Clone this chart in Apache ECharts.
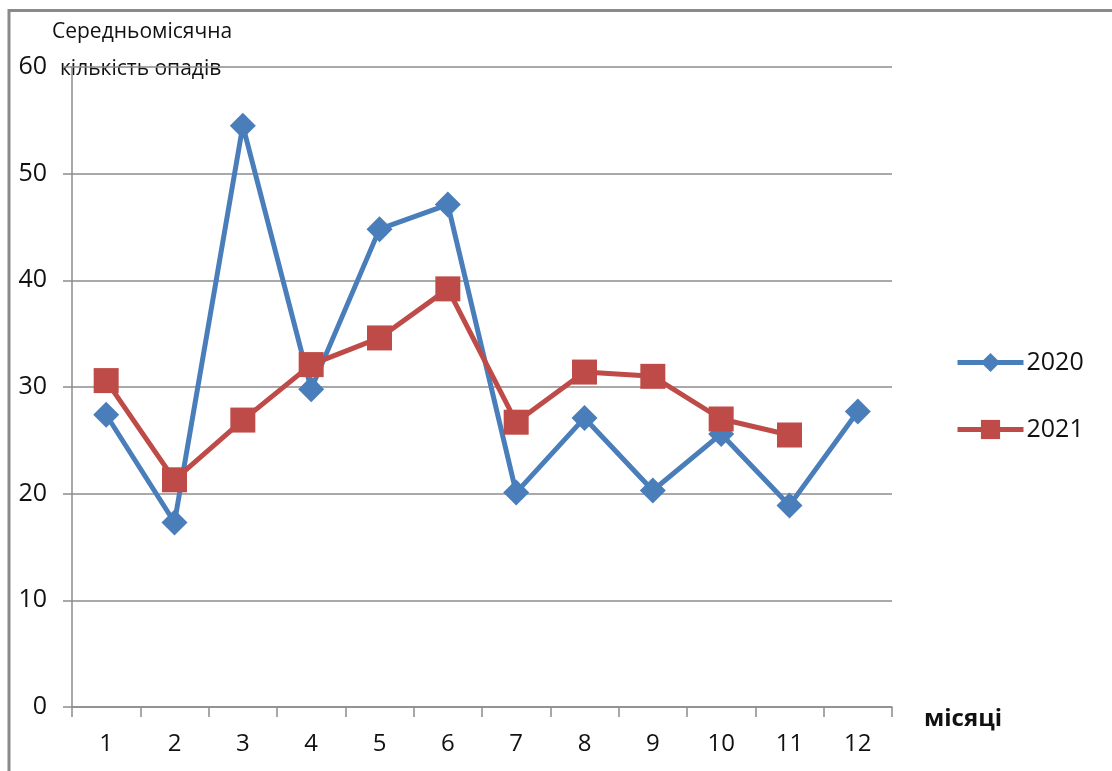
<!DOCTYPE html>
<html>
<head>
<meta charset="utf-8">
<script src="https://cdn.jsdelivr.net/npm/echarts@6/dist/echarts.min.js"></script>
<style>
  html, body { margin: 0; padding: 0; background: #fff; }
  #chart { width: 1112px; height: 771px; }
</style>
</head>
<body>
<div id="chart"></div>
<script>
// Monthly precipitation, two years
const months = ['1', '2', '3', '4', '5', '6', '7', '8', '9', '10', '11', '12'];
const values2020 = [27.4, 17.3, 54.5, 29.8, 44.8, 47.1, 20.1, 27.1, 20.3, 25.6, 18.9, 27.7];
const values2021 = [30.6, 21.3, 26.9, 32.1, 34.6, 39.2, 26.7, 31.4, 31.0, 27.0, 25.5, null];
const seriesNames = ['2020', '2021'];
const yTitleLines = ['Середньомісячна', 'кількість опадів'];
const xTitle = 'місяці';

const FONT = '"Open Sans", "Liberation Sans", sans-serif';
const axisGray = '#8c8c8c';

const chart = echarts.init(document.getElementById('chart'), null, { renderer: 'canvas' });

chart.setOption({
  animation: false,
  backgroundColor: '#fff',
  grid: { left: 72, right: 220, top: 67, bottom: 64, containLabel: false },
  legend: {
    orient: 'vertical',
    left: 950,
    top: 345,
    itemGap: 42,
    itemWidth: 66,
    itemHeight: 24,
    lineStyle: { width: 5 },
    textStyle: { fontFamily: FONT, fontSize: 25, color: '#111', padding: [0, 0, 0, -2] },
    data: seriesNames
  },
  xAxis: {
    type: 'category',
    data: months,
    boundaryGap: true,
    axisLine: { lineStyle: { color: axisGray, width: 1.5 } },
    axisTick: { show: true, length: 10, alignWithLabel: false, lineStyle: { color: axisGray, width: 1.5 } },
    axisLabel: { fontFamily: FONT, fontSize: 24, color: '#111', margin: 25 },
    name: xTitle,
    nameLocation: 'end',
    nameGap: 32,
    nameTextStyle: { fontFamily: FONT, fontSize: 24, fontWeight: 'bold', color: '#111', verticalAlign: 'top', padding: [0, 0, 0, 0] }
  },
  yAxis: {
    type: 'value',
    min: 0,
    max: 60,
    interval: 10,
    axisLine: { show: true, lineStyle: { color: axisGray, width: 1.5 } },
    axisTick: { show: true, length: 9, lineStyle: { color: axisGray, width: 1.5 } },
    splitLine: { show: true, lineStyle: { color: axisGray, width: 1.5 } },
    axisLabel: { fontFamily: FONT, fontSize: 25, color: '#111', margin: 25 }
  },
  graphic: [
    // outer frame: top and left edges
    { type: 'line', shape: { x1: 8, y1: 10.5, x2: 1112, y2: 10.5 }, style: { stroke: '#8a8a8a', lineWidth: 3 }, silent: true },
    { type: 'line', shape: { x1: 9, y1: 9, x2: 9, y2: 771 }, style: { stroke: '#8a8a8a', lineWidth: 3 }, silent: true },
    // value axis title, two lines with the second one indented
    {
      type: 'text', left: 52, top: 22, silent: true,
      style: { text: yTitleLines[0], fontFamily: FONT, fontSize: 21, fill: '#111' }
    },
    {
      type: 'text', left: 60, top: 59, silent: true,
      style: { text: yTitleLines[1], fontFamily: FONT, fontSize: 21, fill: '#111' }
    }
  ],
  series: [
    {
      name: seriesNames[0],
      type: 'line',
      data: values2020,
      symbol: 'diamond',
      symbolSize: 26,
      itemStyle: { color: '#4a7ebb' },
      lineStyle: { color: '#4a7ebb', width: 5 },
      z: 2
    },
    {
      name: seriesNames[1],
      type: 'line',
      data: values2021,
      symbol: 'rect',
      symbolSize: 25,
      connectNulls: false,
      itemStyle: { color: '#be4b48' },
      lineStyle: { color: '#be4b48', width: 5 },
      z: 3
    }
  ]
});
</script>
</body>
</html>
